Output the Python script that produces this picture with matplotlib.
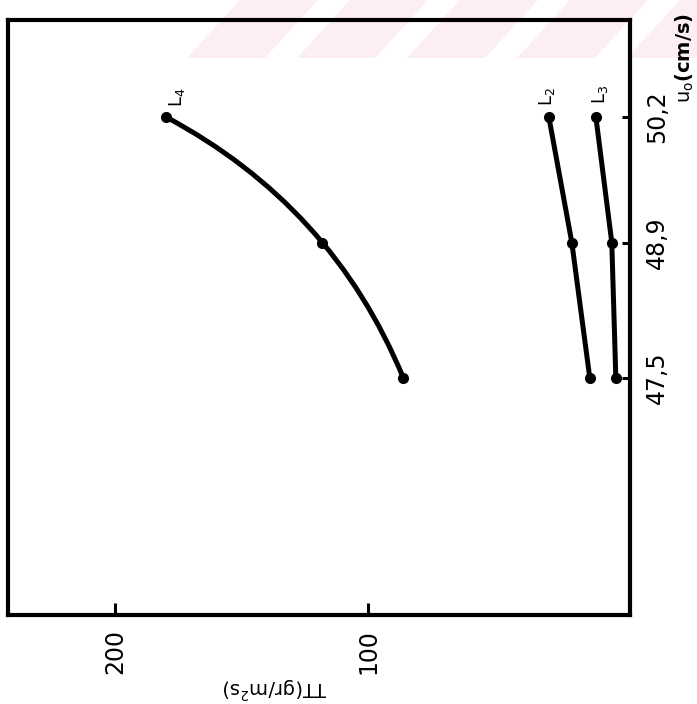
import numpy as np
import matplotlib.pyplot as plt
from matplotlib.path import Path
from matplotlib.patches import PathPatch, Polygon

# flow velocity u_o (cm/s) and transport rate TT (gr/m^2 s) for each run
u0 = [47.5, 48.9, 50.2]
tt_L2 = [12.3, 19.4, 28.5]
tt_L3 = [2.0, 3.6, 9.9]
tt_L4 = [86.0, 118.0, 180.0]

# name, values, label offset (px), drawn as a smooth curve or not
series = [('L_2', tt_L2, (-2, 11), False),
          ('L_3', tt_L3, (4, 13), False),
          ('L_4', tt_L4, (11, 10), True)]

tt_ticks = [200, 100]
tt_ticklabels = ['200', '100']
u0_ticks = [47.5, 48.9, 50.2]
u0_ticklabels = ['47,5', '48,9', '50,2']

W, H = 697, 704
fig = plt.figure(figsize=(W / 100, H / 100), dpi=100)
fig.patch.set_facecolor('white')

# faint pink diagonal band along the top edge
stripe_color = '#fdeef1'
for x0 in [240, 350, 460, 570, 680, 790]:
    pts = [(x0, 0), (x0 + 78, 0), (x0 + 78 - 53, 58), (x0 - 53, 58)]
    pts = [(min(max(px, 0), W) / W, 1 - py / H) for px, py in pts]
    fig.add_artist(Polygon(pts, closed=True, transform=fig.transFigure,
                           facecolor=stripe_color, edgecolor='none', zorder=-5))

ax = fig.add_axes([8 / W, 1 - 615 / H, 622 / W, 595 / H])
ax.patch.set_alpha(0)
ax.set_xlim(242.3, -3.6)
ax.set_ylim(45.05, 51.2)

for sp in ax.spines.values():
    sp.set_linewidth(3)
    sp.set_color('black')

ax.set_xticks(tt_ticks)
ax.set_xticklabels(tt_ticklabels, rotation=90, fontsize=17)
ax.set_yticks(u0_ticks)
ax.set_yticklabels(u0_ticklabels, rotation=90, fontsize=17, va='center')
ax.tick_params(axis='x', direction='in', length=9, width=2.2, pad=10,
               bottom=True, top=False)
ax.tick_params(axis='y', direction='in', length=6, width=2.2, pad=11,
               left=False, right=True, labelleft=False, labelright=True)


def smooth_path(xs, ys):
    # quadratic curve through the three points, middle one placed by chord length
    pix = ax.transData.transform(np.column_stack([xs, ys]))
    d01 = np.hypot(*(pix[1] - pix[0]))
    d12 = np.hypot(*(pix[2] - pix[1]))
    t = d01 / (d01 + d12)
    p0, p1, p2 = np.column_stack([xs, ys]).astype(float)
    c = (p1 - (1 - t) ** 2 * p0 - t ** 2 * p2) / (2 * t * (1 - t))
    return Path([p0, c, p2], [Path.MOVETO, Path.CURVE3, Path.CURVE3])


for name, tt, off, smooth in series:
    if smooth:
        ax.add_patch(PathPatch(smooth_path(tt, u0), facecolor='none',
                               edgecolor='black', lw=3.6, capstyle='round'))
    else:
        ax.plot(tt, u0, '-', color='black', lw=3.6, solid_joinstyle='round')
    ax.plot(tt, u0, 'o', color='black', markersize=7)
    ax.annotate(r'$\mathrm{%s}$' % name, xy=(tt[-1], u0[-1]),
                xytext=(off[0] * 0.72, off[1] * 0.72), textcoords='offset points',
                rotation=90, ha='center', va='bottom', fontsize=13)

fig.text(685 / W, 1 - 58 / H, r'$\mathrm{u_o}$(cm/s)', rotation=90,
         ha='center', va='center', fontsize=14, fontweight='bold')
fig.text(275 / W, 1 - 688 / H, r'TT(gr/m$^2$s)', rotation=180,
         ha='center', va='center', fontsize=14)

fig.savefig('out.png', dpi=100)
